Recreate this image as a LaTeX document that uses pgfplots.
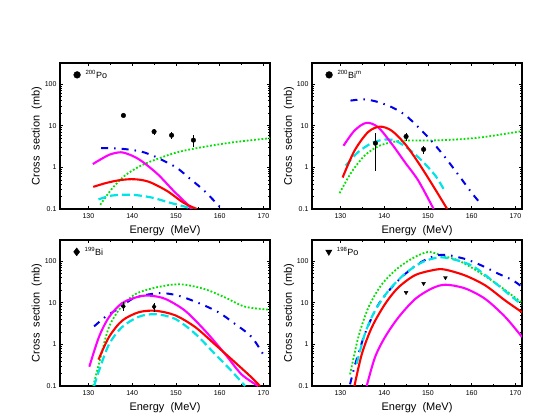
\documentclass[border=0pt]{standalone}
\usepackage{pgfplots}
\pgfplotsset{compat=1.18}
\usepackage{fontspec}
\setmainfont{Liberation Sans}
\definecolor{cR}{RGB}{255,0,0}
\definecolor{cM}{RGB}{255,0,255}
\definecolor{cC}{RGB}{0,228,232}
\definecolor{cB}{RGB}{0,0,235}
\definecolor{cG}{RGB}{0,225,0}
\pgfkeys{/pgf/number format/assume math mode=true}
\pgfplotsset{
  every axis/.append style={scale only axis, width=210pt, height=146pt,
    xmin=123.5, xmax=171.5, ymin=0.1, ymax=320,
    xtick={130,140,150,160,170}, minor x tick num=1,
    ytick={0.1,1,10,100}, yticklabels={0.1,1,10,100},
    tick align=inside, major tick length=3pt, minor tick length=1.8pt,
    axis line style={line width=1.1pt},
    tick style={black, line width=0.6pt},
    tick label style={font=\fontsize{7}{8}\selectfont},
    xticklabel style={yshift=-1pt},
    xlabel={Energy\ \ (MeV)}, ylabel={Cross\ \ section\ \ (mb)},
    label style={font=\fontsize{11}{12}\selectfont},
    ylabel style={at={(axis description cs:-0.11,0.5)}, anchor=center},
    xlabel style={at={(axis description cs:0.5,-0.145)}, anchor=center},
    legend style={at={(0.05,0.98)}, anchor=north west, draw=none, fill=none,
      font=\fontsize{9}{10}\selectfont},
    legend cell align=left,
  },
  lnR/.style={cR, line width=2.1pt, smooth, no marks, forget plot},
  lnM/.style={cM, line width=2.1pt, smooth, no marks, forget plot},
  lnC/.style={cC, line width=2.2pt, smooth, no marks, dash pattern=on 8pt off 4pt, forget plot},
  lnB/.style={cB, line width=2pt, smooth, no marks, dash pattern=on 7pt off 6pt on 1.5pt off 6pt, forget plot},
  lnG/.style={cG, line width=1.8pt, smooth, no marks, dash pattern=on 1.8pt off 1.9pt, forget plot},
}
\begin{document}
\begin{tikzpicture}
\path[use as bounding box] (0,0) rectangle (537pt,415pt);

% ---------------- top left: 200Po
\begin{semilogyaxis}[at={(60pt,206pt)}, anchor=south west]
\addlegendimage{only marks, mark=*, mark size=3.4pt, black}
\addlegendentry{\hspace{3pt}\textsuperscript{200}Po}
\addplot[lnG] coordinates {(132.7,0.126) (135.3,0.3) (138.3,0.63) (142,1.1) (145.8,1.6) (150.3,2.3) (155.6,3.0) (163.1,4.0) (171.5,5.0)};
\addplot[lnB] coordinates {(132.9,2.9) (137.5,2.8) (142,2.4) (145.3,1.8) (148,1.3) (150.3,0.96) (152.9,0.57) (155.6,0.33) (157.4,0.22) (160.1,0.11) (160.5,0.1)};
\addplot[lnC] coordinates {(132.3,0.17) (135.3,0.21) (139.8,0.22) (144.3,0.19) (148.8,0.14) (152.6,0.11) (153.8,0.1)};
\addplot[lnM] coordinates {(131,1.2) (133,1.6) (135,2.05) (137.4,2.3) (139.5,2.0) (142,1.45) (145.8,0.69) (149.5,0.27) (152.6,0.13) (153.5,0.1)};
\addplot[lnR] coordinates {(131.1,0.34) (134,0.42) (137,0.49) (139.8,0.52) (142,0.5) (144.3,0.43) (148,0.27) (151.8,0.14) (154.8,0.1)};
\addplot[only marks, black, mark=*, mark size=2.3pt, forget plot,
  error bars/.cd, y dir=both, y explicit, error mark=none]
  coordinates {(138,17.6) +- (0,1) (145,7.2) +- (0,1.1) (149,5.9) +- (0,1.2) (154,4.5) +- (0,1.5)};
\end{semilogyaxis}

% ---------------- top right: 200Bi^m
\begin{semilogyaxis}[at={(312pt,206pt)}, anchor=south west]
\addlegendimage{only marks, mark=*, mark size=3.4pt, black}
\addlegendentry{\hspace{3pt}\textsuperscript{200}Bi\textsuperscript{m}}
\addplot[lnG] coordinates {(129.8,0.24) (132.5,0.76) (135.5,1.9) (138.6,3.2) (141.7,4.0) (144.8,4.4) (149.4,4.4) (155.5,4.6) (162.5,5.3) (171.5,7.4)};
\addplot[lnB] coordinates {(132.3,40) (135.5,43) (138.6,37) (141.7,28) (144.8,18) (147.8,9.2) (150.9,4.2) (154,1.7) (157.1,0.63) (160.2,0.23) (162.3,0.126)};
\addplot[lnC] coordinates {(131.2,1.1) (134,2.3) (137.1,3.8) (139.8,4.6) (142.5,4.4) (145.5,2.8) (148.6,1.45) (151.7,0.63) (153.6,0.3)};
\addplot[lnM] coordinates {(130.7,3.3) (133.2,7.6) (135.9,11.7) (138.6,9.2) (141.7,3.7) (144.8,1.3) (147.8,0.48) (151.3,0.1)};
\addplot[lnR] coordinates {(130.5,0.57) (133.2,2.5) (136.3,7) (139,9.5) (141.7,7.6) (144.8,3.6) (147.8,1.3) (150.9,0.4) (154.4,0.1)};
\addplot[only marks, black, mark=*, mark size=2.3pt, forget plot,
  error bars/.cd, y dir=both, y explicit, error mark=none]
  coordinates {(138,3.8) +- (0,3.0) (145,5.5) +- (0,1.3) (149,2.7) +- (0,0.6)};
\end{semilogyaxis}

% ---------------- bottom left: 199Bi
\begin{semilogyaxis}[at={(60pt,29pt)}, anchor=south west]
\addlegendimage{only marks, mark=diamond*, mark size=4pt, black}
\addlegendentry{\hspace{3pt}\textsuperscript{199}Bi}
\addplot[lnG] coordinates {(131.1,0.1) (132.4,0.34) (134.7,2.6) (137.7,8.5) (140.7,16) (144.5,22) (149,27) (152.1,27) (156.7,21) (161.2,13.4) (165.8,8) (171.5,6.8)};
\addplot[lnB] coordinates {(131.3,2.7) (133.9,4.6) (137,7.4) (140,12.3) (143,15.3) (146.8,17) (150.6,14.7) (155.2,9.8) (159.7,5.9) (163.5,3.1) (167.3,1.5) (170.3,0.5)};
\addplot[lnC] coordinates {(131.3,0.1) (132.4,0.23) (134.7,1.0) (137.7,2.6) (141.5,4.6) (145.3,5.3) (149.8,4.1) (154.4,1.8) (158.9,0.59) (162.7,0.23) (165.8,0.1)};
\addplot[lnM] coordinates {(130.2,0.29) (132.4,1.5) (134.7,4.5) (137.7,9.8) (141.5,14) (144.2,14.7) (147.6,12.3) (152.1,6.4) (156.7,2.1) (161.2,0.59) (165,0.19) (168.8,0.1)};
\addplot[lnR] coordinates {(132.3,0.43) (134.7,1.5) (137.7,3.7) (141.5,5.9) (145.3,6.4) (149.8,5.0) (154.4,2.6) (158.9,1.0) (163.5,0.37) (167.3,0.16) (169.2,0.1)};
\addplot[only marks, black, mark=diamond*, mark size=2.6pt, forget plot,
  error bars/.cd, y dir=both, y explicit, error mark=none]
  coordinates {(138,8.2) +- (0,2) (145,8.0) +- (0,2)};
\end{semilogyaxis}

% ---------------- bottom right: 198Po
\begin{semilogyaxis}[at={(312pt,29pt)}, anchor=south west]
\addlegendimage{only marks, mark=triangle*, mark options={rotate=180}, mark size=3.6pt, black}
\addlegendentry{\hspace{3pt}\textsuperscript{198}Po}
\addplot[lnG] coordinates {(132.2,0.19) (134.1,1.5) (136.4,7.7) (139.5,28) (143.3,70) (147.1,126) (150.2,166) (153.3,134) (157.1,102) (161.7,54) (166.2,26) (169.3,14.8) (171.5,10)};
\addplot[lnB] coordinates {(132.2,0.11) (133.4,0.34) (135.6,1.8) (137.9,6.4) (139.8,13.4) (143.2,34) (147.1,77) (150.9,126) (154,141) (158.5,112) (162.4,77) (166.2,49) (169.3,35) (171.5,24)};
\addplot[lnC] coordinates {(133.7,0.34) (135.6,1.8) (137.9,6.4) (141,19.5) (144.8,50) (148.6,93) (152.4,122) (155.5,112) (160.1,77) (164.7,34) (169.3,13.6) (171.5,9)};
\addplot[lnM] coordinates {(136,0.1) (137.9,0.49) (140.2,1.5) (143.3,4.5) (147.1,12.3) (150.9,22) (154,27) (158.5,22) (163.1,12.3) (167.7,4.5) (171.5,1.5)};
\addplot[lnR] coordinates {(133.2,0.1) (134.9,0.59) (137.2,2.6) (140.2,9.3) (143.2,23) (147.1,46) (151.7,62) (154,62) (158.5,45) (163.1,26) (167.7,11.2) (171.5,5.9)};
\addplot[only marks, black, mark=triangle*, mark options={rotate=180}, mark size=2.2pt, forget plot]
  coordinates {(145,17.6) (149,29) (154,40)};
\end{semilogyaxis}
\end{tikzpicture}
\end{document}
